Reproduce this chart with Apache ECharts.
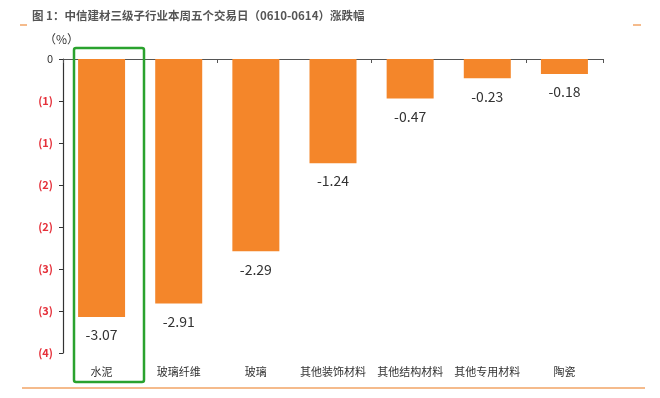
<!DOCTYPE html>
<html>
<head>
<meta charset="utf-8">
<script src="https://cdn.jsdelivr.net/npm/echarts@6/dist/echarts.min.js"></script>
<style>
    html, body { margin: 0; padding: 0; background: #fff; }
    #J-chart { width: 660px; height: 398px; }
</style>
</head>
<body>
<div id="J-chart"></div>
<script>
// 中信建材三级子行业
const categories = ['水泥', '玻璃纤维', '玻璃', '其他装饰材料', '其他结构材料', '其他专用材料', '陶瓷'];
// 本周涨跌幅 (%)
const changes = [-3.07, -2.91, -2.29, -1.24, -0.47, -0.23, -0.18];
// y 轴范围
const yMin = -3.5;
const yMax = 0;
const yStep = 0.5;

const FONT = '"Noto Sans CJK SC", "Noto Sans", sans-serif';
const ORANGE = '#F4862A';

const option = {
    animation: false,
    textStyle: { fontFamily: FONT },
    title: {
        text: '图 1：中信建材三级子行业本周五个交易日（0610-0614）涨跌幅',
        left: 27,
        top: 5,
        textStyle: {
            fontSize: 11.5,
            fontWeight: 'bold',
            color: '#555',
            fontFamily: FONT
        }
    },
    grid: {
        left: 63,
        right: 57,
        top: 59,
        bottom: 45
    },
    xAxis: [
        {
            // 顶部零线
            type: 'category',
            data: categories,
            position: 'top',
            axisLine: { show: true, onZero: false, lineStyle: { color: '#555', width: 1 } },
            axisTick: { show: true, inside: true, length: 4, lineStyle: { color: '#555' } },
            axisLabel: { show: false }
        },
        {
            // 底部类目标签
            type: 'category',
            data: categories,
            position: 'bottom',
            axisLine: { show: false },
            axisTick: { show: false },
            axisLabel: {
                show: true,
                interval: 0,
                hideOverlap: false,
                margin: 13,
                fontSize: 11,
                color: '#333',
                fontFamily: FONT
            }
        }
    ],
    yAxis: {
        type: 'value',
        min: yMin,
        max: yMax,
        interval: yStep,
        axisLine: { show: true, lineStyle: { color: '#333', width: 1.2 } },
        axisTick: { show: true, length: 4, lineStyle: { color: '#333' } },
        splitLine: { show: false },
        axisLabel: {
            fontSize: 11,
            fontWeight: 'bold',
            margin: 10,
            fontFamily: FONT,
            formatter: function(v) {
                if (v === 0) return '{z|0}';
                return '(' + Math.round(Math.abs(v)) + ')';
            },
            color: '#E5303A',
            rich: {
                z: { color: '#333', fontSize: 11, fontWeight: 'normal' }
            }
        }
    },
    series: [
        {
            type: 'bar',
            xAxisIndex: 0,
            data: changes,
            barWidth: 47,
            itemStyle: { color: ORANGE },
            label: {
                show: true,
                position: 'bottom',
                distance: 11,
                fontSize: 14,
                color: '#333',
                fontFamily: FONT,
                formatter: function(p) { return p.value.toFixed(2); }
            }
        }
    ],
    graphic: [
        {
            type: 'text',
            left: 44,
            top: 33,
            style: { text: '（%）', fontSize: 12, fill: '#333', fontFamily: FONT }
        },
        {
            // 水泥 高亮框
            type: 'rect',
            shape: { x: 74, y: 48, width: 70, height: 334, r: 2 },
            style: { fill: 'none', stroke: '#2AA22E', lineWidth: 2.5 },
            z: 10
        },
        {
            type: 'line',
            shape: { x1: 22, y1: 388, x2: 645, y2: 388 },
            style: { stroke: '#F2A466', lineWidth: 1.5 }
        },
        {
            type: 'line',
            shape: { x1: 20, y1: 25, x2: 27, y2: 25 },
            style: { stroke: '#F2A466', lineWidth: 1.5 }
        },
        {
            type: 'line',
            shape: { x1: 633, y1: 25, x2: 641, y2: 25 },
            style: { stroke: '#F2A466', lineWidth: 1.5 }
        }
    ]
};

const chart = echarts.init(document.getElementById('J-chart'));
chart.setOption(option);
</script>
</body>
</html>
